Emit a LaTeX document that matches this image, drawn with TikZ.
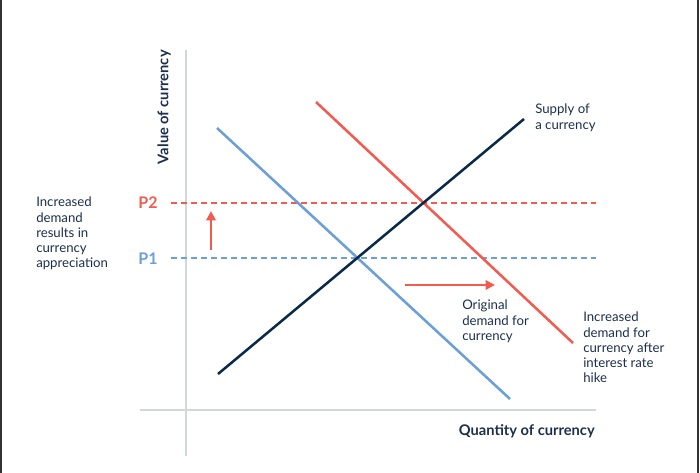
\documentclass[tikz,border=0pt]{standalone}
\usepackage{fontspec}
\setmainfont{Lato}
\usepackage{tikz}
\usetikzlibrary{arrows.meta}
\usetikzlibrary{positioning}
\definecolor{bleunuit}{HTML}{0B2A4A}
\definecolor{bleuclair}{HTML}{6A9FD8}
\definecolor{rougevif}{HTML}{F45B50}
\definecolor{grisaxe}{HTML}{D0D8D8}
\definecolor{texte}{HTML}{1B2F4D}
\begin{document}
\begin{tikzpicture}[x=0.75pt,y=-0.75pt]
% définition des paramètres
\tikzstyle axemonnaie=[color=grisaxe,line width=2.2pt]
\tikzstyle offremonnaie=[color=bleunuit,line width=1.9pt]
\tikzstyle demandemonnaie=[color=bleuclair,line width=1.9pt]
\tikzstyle hausse=[color=rougevif,line width=1.9pt]
\tikzstyle prixdeux=[color=rougevif,line width=1.5pt,dash pattern=on 4.5pt off 3pt]
\tikzstyle prixun=[color=bleuclair,line width=1.5pt,dash pattern=on 4.5pt off 3pt]
\tikzstyle fleche=[color=rougevif,line width=1.5pt,-{Triangle[length=7pt,width=7pt]}]
\tikzstyle legende=[text=texte,font=\fontsize{9.9}{11.3}\selectfont,align=left,inner sep=0pt]
\tikzstyle titreaxe=[text=texte,font=\fontsize{11}{12}\selectfont\bfseries,inner sep=0pt]
\tikzstyle etiquette=[font=\fontsize{12}{13}\selectfont\bfseries,inner sep=0pt]
\tikzstyle bordure=[color=black!80,line width=1.3pt]
\useasboundingbox (0,0) rectangle (700,473);
% le cadre
\draw [bordure] (0.8,0) -- (0.8,473);
\draw [bordure] (698,0) -- (698,473);
% les axes
\coordinate (yhaut) at (186,50);
\coordinate (ybas) at (186,456);
\coordinate (xgauche) at (140,410);
\coordinate (xdroite) at (596,410);
\draw [axemonnaie] (yhaut) -- (ybas);
\draw [axemonnaie] (xgauche) -- (xdroite);
% les prix
\node [etiquette,text=rougevif] (p2) at (148,203) {P2};
\node [etiquette,text=bleuclair] (p1) at (148,259) {P1};
\coordinate (p2fin) at (596,203);
\coordinate (p1fin) at (596,258);
\draw [prixdeux] (171,203) -- (p2fin);
\draw [prixun] (171,258) -- (p1fin);
% les courbes
\coordinate (offredebut) at (218,374);
\coordinate (offrefin) at (524,119);
\coordinate (demandedebut) at (217,128);
\coordinate (demandefin) at (510,399);
\coordinate (haussedebut) at (316,102);
\coordinate (haussefin) at (573,343);
\draw [demandemonnaie] (demandedebut) -- (demandefin);
\draw [hausse] (haussedebut) -- (haussefin);
\draw [offremonnaie] (offredebut) -- (offrefin);
% les flèches
\coordinate (montebas) at (211,250);
\coordinate (montehaut) at (211,211);
\draw [fleche] (montebas) -- (montehaut);
\coordinate (glissegauche) at (405,285);
\coordinate (glissedroite) at (495,285);
\draw [fleche] (glissegauche) -- (glissedroite);
% les textes
\node [titreaxe,rotate=90,anchor=south east] (valeur) at (171,50) {Value of currency};
\node [titreaxe,anchor=north east] (quantite) at (595,424) {Quantity of currency};
\node [legende,anchor=north west] (appreciation) at (36,197) {Increased\\demand\\results in\\currency\\appreciation};
\node [legende,anchor=north west] (offre) at (535,104) {Supply of\\a currency};
\node [legende,anchor=north west] (origine) at (462,300) {Original\\demand for\\currency};
\node [legende,anchor=north west] (apres) at (583,312) {Increased\\demand for\\currency after\\interest rate\\hike};
\end{tikzpicture}
\end{document}
